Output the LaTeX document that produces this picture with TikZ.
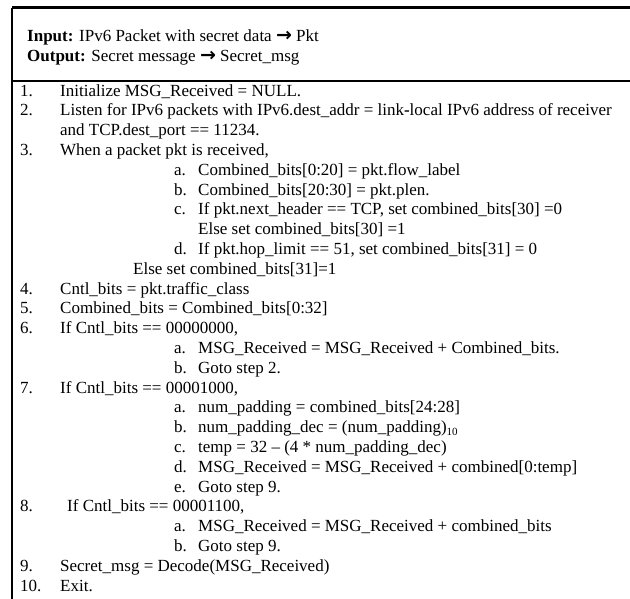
\documentclass[tikz,border=0pt]{standalone}
\usepackage{fontspec}
\setmainfont{Liberation Serif}
\newfontfamily\arrowfont{DejaVu Sans}
\newcommand\ar{{\arrowfont\bfseries\fontsize{19}{19}\selectfont →}}
\newcommand\sbt[1]{\raisebox{-3pt}{\fontsize{11}{11}\selectfont #1}}
\begin{document}
\begin{tikzpicture}[x=1pt,y=-1pt,
  txt/.style={anchor=base west,inner sep=0pt,font=\fontsize{17}{19.8}\selectfont},
  frame/.style={line width=2.2pt,black}]
\useasboundingbox (0,0) rectangle (630,598);
% frame
\draw[frame] (12,7.5) coordinate (tl) -- (631,7.5) coordinate (tr);
\draw[frame] (tl) -- (12,600) coordinate (bl);
\draw[frame] (12,81) coordinate (dl) -- (631,81) coordinate (dr);
% header
\node[txt] (in) at (27,41) {\textbf{Input:} IPv6 Packet with secret data \ar{} Pkt};
\node[txt] (out) at (27,61) {\textbf{Output:} Secret message \ar{} Secret\_msg};
% body
\node[txt] (n1) at (20,96) {1.};
\node[txt] (t1) at (60,96) {Initialize MSG\_Received = NULL.};
\node[txt] (n2) at (20,115.8) {2.};
\node[txt] (t2) at (60,115.8) {Listen for IPv6 packets with IPv6.dest\_addr = link\textbf{-}local IPv6 address of receiver};
\node[txt] (t2b) at (60,135.6) {and TCP.dest\_port == 11234.};
\node[txt] (n3) at (20,155.4) {3.};
\node[txt] (t3) at (60,155.4) {When a packet pkt is received,};
\node[txt] (l3a) at (174,175.2) {a.};
\node[txt] (t3a) at (198,175.2) {Combined\_bits[0:20] = pkt.flow\_label};
\node[txt] (l3b) at (174,195) {b.};
\node[txt] (t3b) at (198,195) {Combined\_bits[20:30] = pkt.plen.};
\node[txt] (l3c) at (174,214.8) {c.};
\node[txt] (t3c) at (198,214.8) {If pkt.next\_header == TCP, set combined\_bits[30] =0};
\node[txt] (t3c2) at (198,234.6) {Else set combined\_bits[30] =1};
\node[txt] (l3d) at (174,254.4) {d.};
\node[txt] (t3d) at (198,254.4) {If pkt.hop\_limit == 51, set combined\_bits[31] = 0};
\node[txt] (t3d2) at (133,274.2) {Else set combined\_bits[31]=1};
\node[txt] (n4) at (20,294) {4.};
\node[txt] (t4) at (60,294) {Cntl\_bits = pkt.traffic\_class};
\node[txt] (n5) at (20,313.8) {5.};
\node[txt] (t5) at (60,313.8) {Combined\_bits = Combined\_bits[0:32]};
\node[txt] (n6) at (20,333.6) {6.};
\node[txt] (t6) at (60,333.6) {If Cntl\_bits == 00000000,};
\node[txt] (l6a) at (174,353.4) {a.};
\node[txt] (t6a) at (198,353.4) {MSG\_Received = MSG\_Received + Combined\_bits.};
\node[txt] (l6b) at (174,373.2) {b.};
\node[txt] (t6b) at (198,373.2) {Goto step 2.};
\node[txt] (n7) at (20,393) {7.};
\node[txt] (t7) at (60,393) {If Cntl\_bits == 00001000,};
\node[txt] (l7a) at (174,412.8) {a.};
\node[txt] (t7a) at (198,412.8) {num\_padding = combined\_bits[24:28]};
\node[txt] (l7b) at (174,432.6) {b.};
\node[txt] (t7b) at (198,432.6) {num\_padding\_dec = (num\_padding)\sbt{10}};
\node[txt] (l7c) at (174,452.4) {c.};
\node[txt] (t7c) at (198,452.4) {temp = 32 – (4 * num\_padding\_dec)};
\node[txt] (l7d) at (174,472.2) {d.};
\node[txt] (t7d) at (198,472.2) {MSG\_Received = MSG\_Received + combined[0:temp]};
\node[txt] (l7e) at (174,492) {e.};
\node[txt] (t7e) at (198,492) {Goto step 9.};
\node[txt] (n8) at (20,511.8) {8.};
\node[txt] (t8) at (67,511.8) {If Cntl\_bits == 00001100,};
\node[txt] (l8a) at (174,531.6) {a.};
\node[txt] (t8a) at (198,531.6) {MSG\_Received = MSG\_Received + combined\_bits};
\node[txt] (l8b) at (174,551.4) {b.};
\node[txt] (t8b) at (198,551.4) {Goto step 9.};
\node[txt] (n9) at (20,571.2) {9.};
\node[txt] (t9) at (60,571.2) {Secret\_msg = Decode(MSG\_Received)};
\node[txt] (n10) at (20,591) {10.};
\node[txt] (t10) at (60,591) {Exit.};
\end{tikzpicture}
\end{document}
